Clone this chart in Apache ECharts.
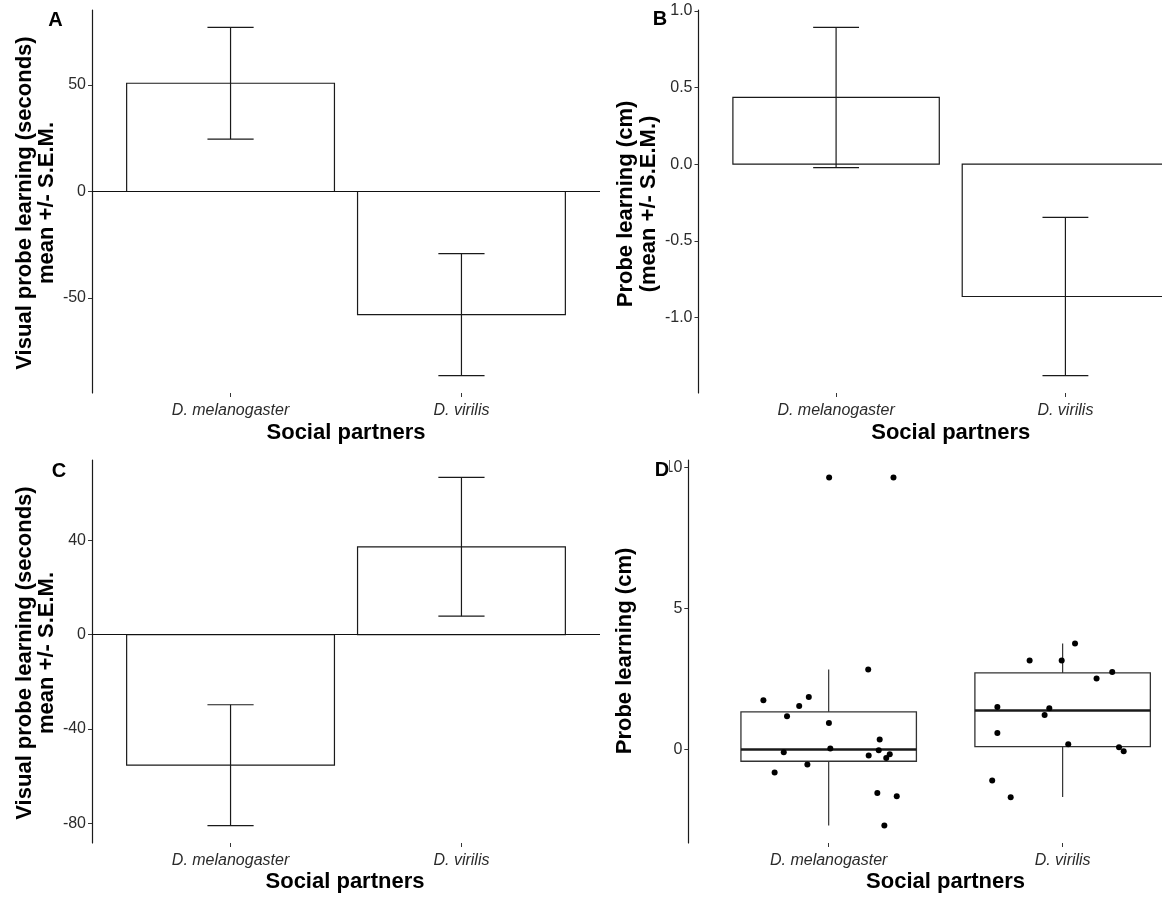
<!DOCTYPE html>
<html>
<head>
<meta charset="utf-8">
<script src="https://cdn.jsdelivr.net/npm/echarts@6/dist/echarts.min.js"></script>
<style>
html,body{margin:0;padding:0;background:#fff;}
#chart{width:1162px;height:897px;}
</style>
</head>
<body>
<div id="chart"></div>
<script>
// ---------- data ----------
const categories = ['D. melanogaster', 'D. virilis'];
const catPos = [1, 2];

// Panel A: visual probe learning (seconds), mean and S.E.M.
const meanA = [50.8, -57.8];
const semA = [26.2, 28.6];
// Panel B: probe learning (cm), mean and S.E.M.
const meanB = [0.435, -0.863];
const semB = [0.457, 0.516];
// Panel C: visual probe learning (seconds), mean and S.E.M.
const meanC = [-55.3, 37.2];
const semC = [25.6, 29.4];

// Panel D: boxplot stats [lowerWhisker, Q1, median, Q3, upperWhisker]
const boxMel = [-2.695, -0.415, 0.0, 1.334, 2.837];
const boxVir = [-1.68, 0.106, 1.383, 2.716, 3.759];
// Panel D: individual points (values) and their horizontal jitter (category units)
const ptsMel = [1.748, 1.865, 1.546, 1.181, 0.943, 2.837, 0.355, -0.096, 0.035, -0.025,
                -0.213, -0.167, -0.298, -0.532, -0.816, -1.539, -1.656, -2.695, 9.645, 9.645];
const jitMel = [-0.279, -0.085, -0.126, -0.178, 0.001, 0.169, 0.218, -0.192, 0.007, 0.214,
                0.171, 0.261, 0.246, -0.091, -0.231, 0.208, 0.291, 0.238, 0.002, 0.277];
const ptsVir = [3.759, 3.156, 3.156, 2.752, 2.518, 1.511, 1.465, 1.227, 0.589, 0.188,
                0.082, -0.060, -1.099, -1.691];
const jitVir = [0.053, -0.141, -0.004, 0.212, 0.145, -0.279, -0.057, -0.077, -0.279, 0.024,
                0.241, 0.261, -0.301, -0.222];

// tick values
const ticksA = [-50, 0, 50];
const ticksB = [-1, -0.5, 0, 0.5, 1];
const ticksC = [-80, -40, 0, 40];
const ticksD = [0, 5, 10];

// ---------- helpers ----------
const FONT = "'Liberation Sans', Arial, Helvetica, sans-serif";
const TXT = '#2b2b2b';
const LINE = '#1a1a1a';

function expandRange(lo, hi) {
  const r = hi - lo;
  return [lo - 0.05 * r, hi + 0.05 * r];
}
function barRange(mean, sem) {
  const vals = [0];
  mean.forEach((m, i) => { vals.push(m - sem[i], m + sem[i]); });
  return expandRange(Math.min(...vals), Math.max(...vals));
}

const grids = [
  {left: 92, top: 10, width: 508, height: 383},
  {left: 698.5, top: 10, width: 504.5, height: 383},
  {left: 92, top: 460, width: 508, height: 383},
  {left: 688.3, top: 460, width: 514.7, height: 383}
].map(g => Object.assign({outerBoundsMode: 'none', containLabel: false}, g));

function xAxisFor(gi) {
  return {
    type: 'value', gridIndex: gi, min: 0.4, max: 2.6, position: 'bottom',
    axisLine: {show: false, onZero: false},
    splitLine: {show: false},
    axisTick: {show: true, customValues: catPos, length: 4, lineStyle: {color: '#333', width: 1}},
    axisLabel: {
      show: true, customValues: catPos, margin: 10,
      formatter: v => categories[Math.round(v) - 1] || '',
      fontFamily: FONT, fontSize: 16, fontStyle: 'italic', color: TXT
    }
  };
}
function yAxisFor(gi, range, ticks, fmt) {
  return {
    type: 'value', gridIndex: gi, min: range[0], max: range[1],
    axisLine: {show: true, onZero: false, lineStyle: {color: '#1a1a1a', width: 1.2}},
    splitLine: {show: false},
    axisTick: {show: true, customValues: ticks, length: 4, lineStyle: {color: '#333', width: 1}},
    axisLabel: {
      show: true, customValues: ticks, margin: 6,
      formatter: fmt || (v => String(v)),
      fontFamily: FONT, fontSize: 16, color: TXT
    }
  };
}

function barSeries(gi, mean, withZeroLine) {
  const s = {
    type: 'custom', xAxisIndex: gi, yAxisIndex: gi, clip: false,
    data: mean.map((m, i) => [catPos[i], m]),
    renderItem: function (params, api) {
      const x = api.value(0), v = api.value(1);
      const p0 = api.coord([x - 0.45, 0]);
      const p1 = api.coord([x + 0.45, v]);
      return {
        type: 'rect',
        shape: {x: Math.min(p0[0], p1[0]), y: Math.min(p0[1], p1[1]),
                width: Math.abs(p1[0] - p0[0]), height: Math.abs(p1[1] - p0[1])},
        style: {fill: '#fff', stroke: LINE, lineWidth: 1.2}
      };
    },
    z: 2
  };
  if (withZeroLine) {
    s.markLine = {
      silent: true, symbol: ['none', 'none'], animation: false,
      label: {show: false},
      lineStyle: {color: '#111', width: 1.2, type: 'solid'},
      data: [{yAxis: 0}]
    };
  }
  return s;
}
function errSeries(gi, mean, sem) {
  return {
    type: 'custom', xAxisIndex: gi, yAxisIndex: gi, clip: false,
    data: mean.map((m, i) => [catPos[i], m - sem[i], m + sem[i]]),
    renderItem: function (params, api) {
      const x = api.value(0), lo = api.value(1), hi = api.value(2);
      const pl = api.coord([x, lo]), ph = api.coord([x, hi]);
      const cl0 = api.coord([x - 0.1, lo]), cl1 = api.coord([x + 0.1, lo]);
      const ch0 = api.coord([x - 0.1, hi]), ch1 = api.coord([x + 0.1, hi]);
      const st = {stroke: LINE, lineWidth: 1.2};
      return {
        type: 'group',
        children: [
          {type: 'line', shape: {x1: pl[0], y1: pl[1], x2: ph[0], y2: ph[1]}, style: st},
          {type: 'line', shape: {x1: cl0[0], y1: cl0[1], x2: cl1[0], y2: cl1[1]}, style: st},
          {type: 'line', shape: {x1: ch0[0], y1: ch0[1], x2: ch1[0], y2: ch1[1]}, style: st}
        ]
      };
    },
    z: 3
  };
}
function boxSeries(gi, boxes) {
  return {
    type: 'custom', xAxisIndex: gi, yAxisIndex: gi, clip: false,
    data: boxes.map((b, i) => [catPos[i]].concat(b)),
    renderItem: function (params, api) {
      const x = api.value(0);
      const lw = api.value(1), q1 = api.value(2), md = api.value(3), q3 = api.value(4), uw = api.value(5);
      const a = api.coord([x - 0.375, q3]), b = api.coord([x + 0.375, q1]);
      const m0 = api.coord([x - 0.375, md]), m1 = api.coord([x + 0.375, md]);
      const w0 = api.coord([x, uw]), w1 = api.coord([x, q3]);
      const w2 = api.coord([x, q1]), w3 = api.coord([x, lw]);
      const st = {stroke: '#333', lineWidth: 1.2};
      return {
        type: 'group',
        children: [
          {type: 'line', shape: {x1: w0[0], y1: w0[1], x2: w1[0], y2: w1[1]}, style: st},
          {type: 'line', shape: {x1: w2[0], y1: w2[1], x2: w3[0], y2: w3[1]}, style: st},
          {type: 'rect', shape: {x: a[0], y: a[1], width: b[0] - a[0], height: b[1] - a[1]},
           style: {fill: '#fff', stroke: '#333', lineWidth: 1.3}},
          {type: 'line', shape: {x1: m0[0], y1: m0[1], x2: m1[0], y2: m1[1]},
           style: {stroke: '#1a1a1a', lineWidth: 2.4}}
        ]
      };
    },
    z: 2
  };
}
function pointSeries(gi, vals, jit, ci) {
  return {
    type: 'scatter', xAxisIndex: gi, yAxisIndex: gi, clip: false,
    symbol: 'circle', symbolSize: 6,
    itemStyle: {color: '#000', opacity: 1},
    data: vals.map((v, i) => [catPos[ci] + jit[i], v]),
    z: 4
  };
}

const rangeA = barRange(meanA, semA);
const rangeB = barRange(meanB, semB);
const rangeC = barRange(meanC, semC);
const allD = ptsMel.concat(ptsVir, boxMel, boxVir);
const rangeD = expandRange(Math.min(...allD), Math.max(...allD));

function txt(text, x, y, size, opts) {
  opts = opts || {};
  const st = {
    text: text, fill: '#000',
    font: 'bold ' + size + 'px ' + FONT,
    textAlign: 'center', textVerticalAlign: 'middle',
    align: 'center', verticalAlign: 'middle',
    lineHeight: opts.lh || size
  };
  if (opts.bg) { st.backgroundColor = opts.bg; }
  return {type: 'text', x: x, y: y, rotation: opts.rot || 0, z: 100, style: st};
}

const option = {
  animation: false,
  backgroundColor: '#fff',
  grid: grids,
  xAxis: [xAxisFor(0), xAxisFor(1), xAxisFor(2), xAxisFor(3)],
  yAxis: [
    yAxisFor(0, rangeA, ticksA),
    yAxisFor(1, rangeB, ticksB, v => v.toFixed(1)),
    yAxisFor(2, rangeC, ticksC),
    yAxisFor(3, rangeD, ticksD)
  ],
  series: [
    barSeries(0, meanA, true), errSeries(0, meanA, semA),
    barSeries(1, meanB, false), errSeries(1, meanB, semB),
    barSeries(2, meanC, true), errSeries(2, meanC, semC),
    boxSeries(3, [boxMel, boxVir]),
    pointSeries(3, ptsMel, jitMel, 0),
    pointSeries(3, ptsVir, jitVir, 1)
  ],
  graphic: [
    txt('A', 55.5, 20.5, 20),
    txt('B', 660, 19, 20),
    txt('C', 59, 471.5, 20),
    txt('D', 662, 470, 20, {bg: '#fff'}),
    txt('Visual probe learning (seconds)\nmean +/- S.E.M.', 36, 203, 22, {rot: Math.PI / 2, lh: 22}),
    txt('Probe learning (cm)\n(mean +/- S.E.M.)', 637, 204, 22, {rot: Math.PI / 2, lh: 23}),
    txt('Visual probe learning (seconds)\nmean +/- S.E.M.', 36, 653, 22, {rot: Math.PI / 2, lh: 22}),
    txt('Probe learning (cm)', 625, 651, 22, {rot: Math.PI / 2}),
    txt('Social partners', 346, 433, 22),
    txt('Social partners', 950.7, 433, 22),
    txt('Social partners', 345, 882, 22),
    txt('Social partners', 945.6, 882, 22)
  ]
};

const chart = echarts.init(document.getElementById('chart'), null, {renderer: 'canvas'});
chart.setOption(option);
</script>
</body>
</html>
